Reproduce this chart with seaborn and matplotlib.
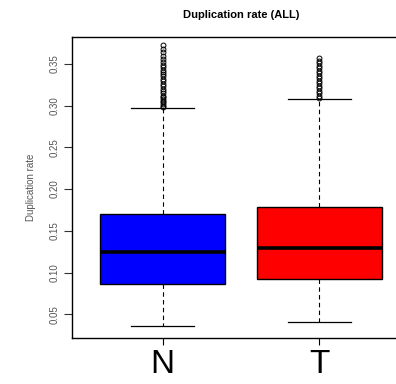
import numpy as np
import pandas as pd
import matplotlib
matplotlib.use("Agg")
import matplotlib.pyplot as plt
import seaborn as sns

# ---- data ----
groups = ["N", "T"]
colors = ["#0000FF", "#FF0000"]
# five-number summaries: lower whisker, Q1, median, Q3, upper whisker
low_whisker = [0.0354, 0.0407]
q1 = [0.0858, 0.0920]
median = [0.1245, 0.1288]
q3 = [0.1705, 0.1785]
high_whisker = [0.2970, 0.3080]
outliers_N = [0.2985, 0.300, 0.302, 0.304, 0.306, 0.308, 0.310, 0.312, 0.315,
              0.318, 0.320, 0.323, 0.326, 0.329, 0.332, 0.335, 0.338, 0.340,
              0.343, 0.346, 0.349, 0.352, 0.356, 0.360, 0.364, 0.368, 0.373]
outliers_T = [0.3095, 0.312, 0.315, 0.318, 0.321, 0.324, 0.327, 0.330, 0.333,
              0.336, 0.339, 0.342, 0.345, 0.348, 0.351, 0.354, 0.357]
outliers = [outliers_N, outliers_T]
block = 40  # count of observations at each quartile level

rows = []
for i, g in enumerate(groups):
    vals = ([low_whisker[i]] + [q1[i]] * block + [median[i]] * block +
            [q3[i]] * block + [high_whisker[i]] + list(outliers[i]))
    rows += [(g, v) for v in vals]
df = pd.DataFrame(rows, columns=["group", "rate"])

# ---- figure ----
fig = plt.figure(figsize=(3.96, 3.84), dpi=100)
ax = fig.add_axes([72 / 396, 46 / 384, 338 / 396, 301 / 384])

sns.boxplot(data=df, x="group", y="rate", hue="group", palette=colors,
            order=groups, hue_order=groups, legend=False, width=0.8,
            saturation=1, linecolor="black", linewidth=1.0, ax=ax, whis=1.5,
            capwidths=0.4,
            medianprops=dict(color="black", linewidth=2.6),
            whiskerprops=dict(color="black", linewidth=0.8, linestyle=(0, (4, 3))),
            capprops=dict(color="black", linewidth=0.9),
            flierprops=dict(marker="o", markerfacecolor="none",
                            markeredgecolor="black", markeredgewidth=0.7,
                            markersize=3.5))

ax.set_xlim(-0.58, 1.58)
ax.set_ylim(0.0215, 0.3823)
ax.set_yticks([0.05, 0.10, 0.15, 0.20, 0.25, 0.30, 0.35])
ax.set_yticklabels([f"{v:.2f}" for v in [0.05, 0.10, 0.15, 0.20, 0.25, 0.30, 0.35]],
                   rotation=90, va="center", fontsize=7, color="#555555",
                   family="Liberation Sans")
ax.set_xticks([0, 1])
ax.set_xticklabels(groups, fontsize=24, family="Liberation Sans")
ax.tick_params(axis="y", length=6, width=0.8, pad=3, color="#333333")
ax.tick_params(axis="x", length=5, width=0.8, pad=3)
ax.set_xlabel("")
ax.set_ylabel("Duplication rate", fontsize=7, color="#555555",
              family="Liberation Sans", labelpad=10)
ax.set_title("Duplication rate (ALL)", fontsize=8, fontweight="bold",
             family="Liberation Sans", pad=14)
for s in ["left", "bottom", "top", "right"]:
    ax.spines[s].set_linewidth(1.0)
    ax.spines[s].set_color("black")

fig.savefig("out.png", dpi=100)
